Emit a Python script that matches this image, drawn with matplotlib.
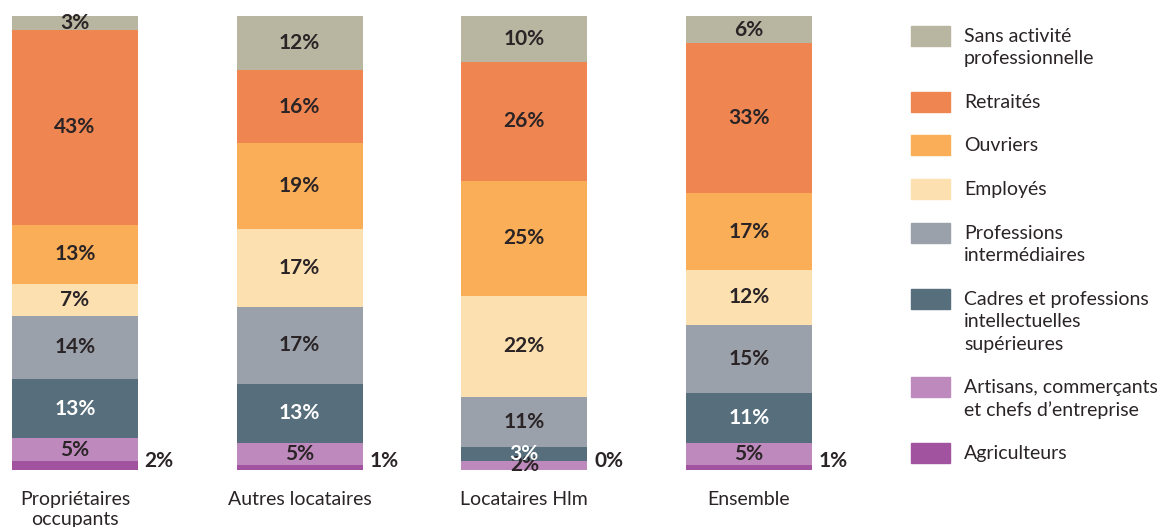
import matplotlib.pyplot as plt
from matplotlib.patches import Rectangle

plt.rcParams['font.family'] = ['Lato', 'DejaVu Sans']

groups = ['Propriétaires\noccupants', 'Autres locataires', 'Locataires Hlm', 'Ensemble']
categories = ['Agriculteurs', 'Artisans, commerçants\net chefs d\u2019entreprise',
              'Cadres et professions\nintellectuelles\nsupérieures',
              'Professions\nintermédiaires', 'Employés', 'Ouvriers', 'Retraités',
              'Sans activité\nprofessionnelle']
agriculteurs = [2, 1, 0, 1]
artisans = [5, 5, 2, 5]
cadres = [13, 13, 3, 11]
intermediaires = [14, 17, 11, 15]
employes = [7, 17, 22, 12]
ouvriers = [13, 19, 25, 17]
retraites = [43, 16, 26, 33]
sans_activite = [3, 12, 10, 6]

series = [agriculteurs, artisans, cadres, intermediaires, employes, ouvriers, retraites, sans_activite]
colors = ['#a153a0', '#be8abd', '#576e7c', '#9ba1ab', '#fde0b0', '#f9ae57', '#ef8551', '#b8b5a0']
text_dark = '#2a2426'

# each bar is drawn as shares of its own total (rounded labels don't always add to 100)
totals = [sum(s[j] for s in series) for j in range(len(groups))]

fig = plt.figure(figsize=(11.57, 5.27), dpi=100)
W, H = 1157, 527
ax = fig.add_axes([0, (H - 470) / H, 880 / W, 454 / H])

x = range(len(groups))
bottom = [0] * len(groups)
for i, vals in enumerate(series):
    heights = [v * 100 / t for v, t in zip(vals, totals)]
    ax.bar(x, heights, bottom=bottom, width=0.56, color=colors[i], linewidth=0)
    for j, v in enumerate(vals):
        if i == 0:
            ax.text(j + 0.31, 2, f'{v}%', ha='left', va='center', fontsize=15,
                    fontweight='bold', color=text_dark)
        else:
            c = 'white' if i == 2 else text_dark
            ax.text(j, bottom[j] + heights[j] / 2, f'{v}%', ha='center', va='center',
                    fontsize=15, fontweight='bold', color=c)
    bottom = [b + h for b, h in zip(bottom, heights)]

ax.set_xlim(-0.334, 3.583)
ax.set_ylim(0, 100)
ax.set_xticks(list(x))
ax.set_xticklabels(groups, fontsize=14, color=text_dark, linespacing=1.2)
ax.tick_params(axis='x', length=0, pad=15)
ax.set_yticks([])
for s in ax.spines.values():
    s.set_visible(False)

# legend drawn by hand, top to bottom
leg_y = [36, 102, 145, 189, 233, 299, 387, 453]
for lab, col, yy in zip(categories[::-1], colors[::-1], leg_y):
    fig.patches.append(Rectangle((911 / W, 1 - (yy + 10) / H), 39 / W, 20 / H,
                                 transform=fig.transFigure, color=col))
    fig.text(964 / W, 1 - (yy - 8) / H, lab, ha='left', va='top', fontsize=14,
             color=text_dark, linespacing=1.38)

fig.savefig('out.png', dpi=100)
